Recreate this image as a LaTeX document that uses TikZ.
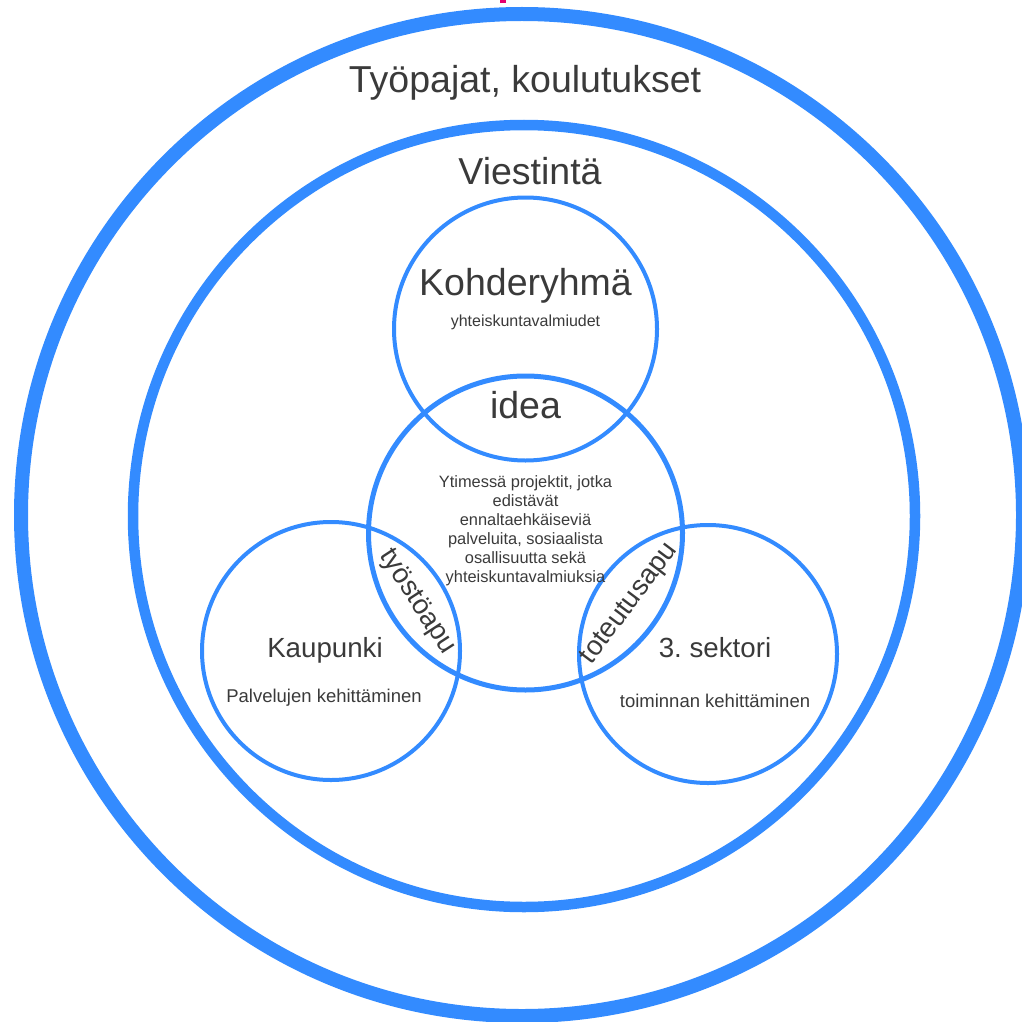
\documentclass[tikz,border=0pt]{standalone}
\usepackage{fontspec}
\setmainfont{Liberation Sans}
\usetikzlibrary{positioning}
\definecolor{ringblue}{RGB}{51,139,255}
\definecolor{labelgray}{RGB}{58,58,58}
\definecolor{markpink}{RGB}{232,0,110}

\begin{document}
\begin{tikzpicture}[
    x=1pt, y=1pt,
    on grid,
    every node/.style={inner sep=0pt, text=labelgray},
    ring/.style 2 args={circle, draw=ringblue, line width=#1, minimum size=#2},
    huge label/.style={font=\fontsize{37.5}{45}\selectfont, anchor=base},
    mid label/.style={font=\fontsize{27.7}{33}\selectfont, anchor=base},
    sub label/.style={font=\fontsize{18.5}{22}\selectfont, anchor=base},
    tiny label/.style={font=\fontsize{16}{19}\selectfont, anchor=base},
    core label/.style={font=\fontsize{16.4}{19}\selectfont, align=center, anchor=north},
    lens label/.style={font=\fontsize{27.5}{33}\selectfont, anchor=center}
]
\useasboundingbox (0,0) rectangle (1022,-1022);

% 圆
\node[ring={5pt}{314pt}] (idea) at (525.5,-533) {};
\node[ring={4pt}{263pt}, above=204pt of idea] (kohde) {};
\node[ring={4pt}{258pt}, below left=118pt and 194.5pt of idea] (kaupunki) {};
\node[ring={4pt}{258pt}, below right=121pt and 182.5pt of idea] (sektori) {};
\node[ring={10.5pt}{782pt}, above left=17pt and 1.5pt of idea] (viestinta) {};
\node[ring={14pt}{1002pt}, above left=18pt and 3.5pt of idea] (tyopajat) {};

% 頂部小標記
\fill[markpink] (500,0) rectangle (506,-3);

% 外圈文字
\node[above right=422pt and 3pt of tyopajat, huge label] (tyopajat text) {Työpajat, koulutukset};
\node[above right=332pt and 6pt of viestinta, huge label] (viestinta text) {Viestintä};

% 上圓
\node[above=34pt of kohde, huge label] (kohde text) {Kohderyhmä};
\node[above=2.5pt of kohde, tiny label] (kohde sub) {yhteiskuntavalmiudet};

% 中心
\node[above=115pt of idea, huge label] (idea text) {idea};
\node[above=58pt of idea, core label] (core text) {Ytimessä projektit, jotka\\edistävät\\ennaltaehkäiseviä\\palveluita, sosiaalista\\osallisuutta sekä\\yhteiskuntavalmiuksia};

% 交集
\node[below left=69pt and 108.5pt of idea, lens label, rotate=-57] (tyostoapu) {työstöapu};
\node[below right=71pt and 104.5pt of idea, lens label, rotate=53] (toteutusapu) {toteutusapu};

% 左右圓
\node[below left=6pt and 6pt of kaupunki, mid label] (kaupunki text) {Kaupunki};
\node[below left=51pt and 7pt of kaupunki, sub label] (kaupunki sub) {Palvelujen kehittäminen};
\node[below right=3pt and 7pt of sektori, mid label] (sektori text) {3.\ sektori};
\node[below right=53pt and 7pt of sektori, sub label] (sektori sub) {toiminnan kehittäminen};

\end{tikzpicture}
\end{document}
